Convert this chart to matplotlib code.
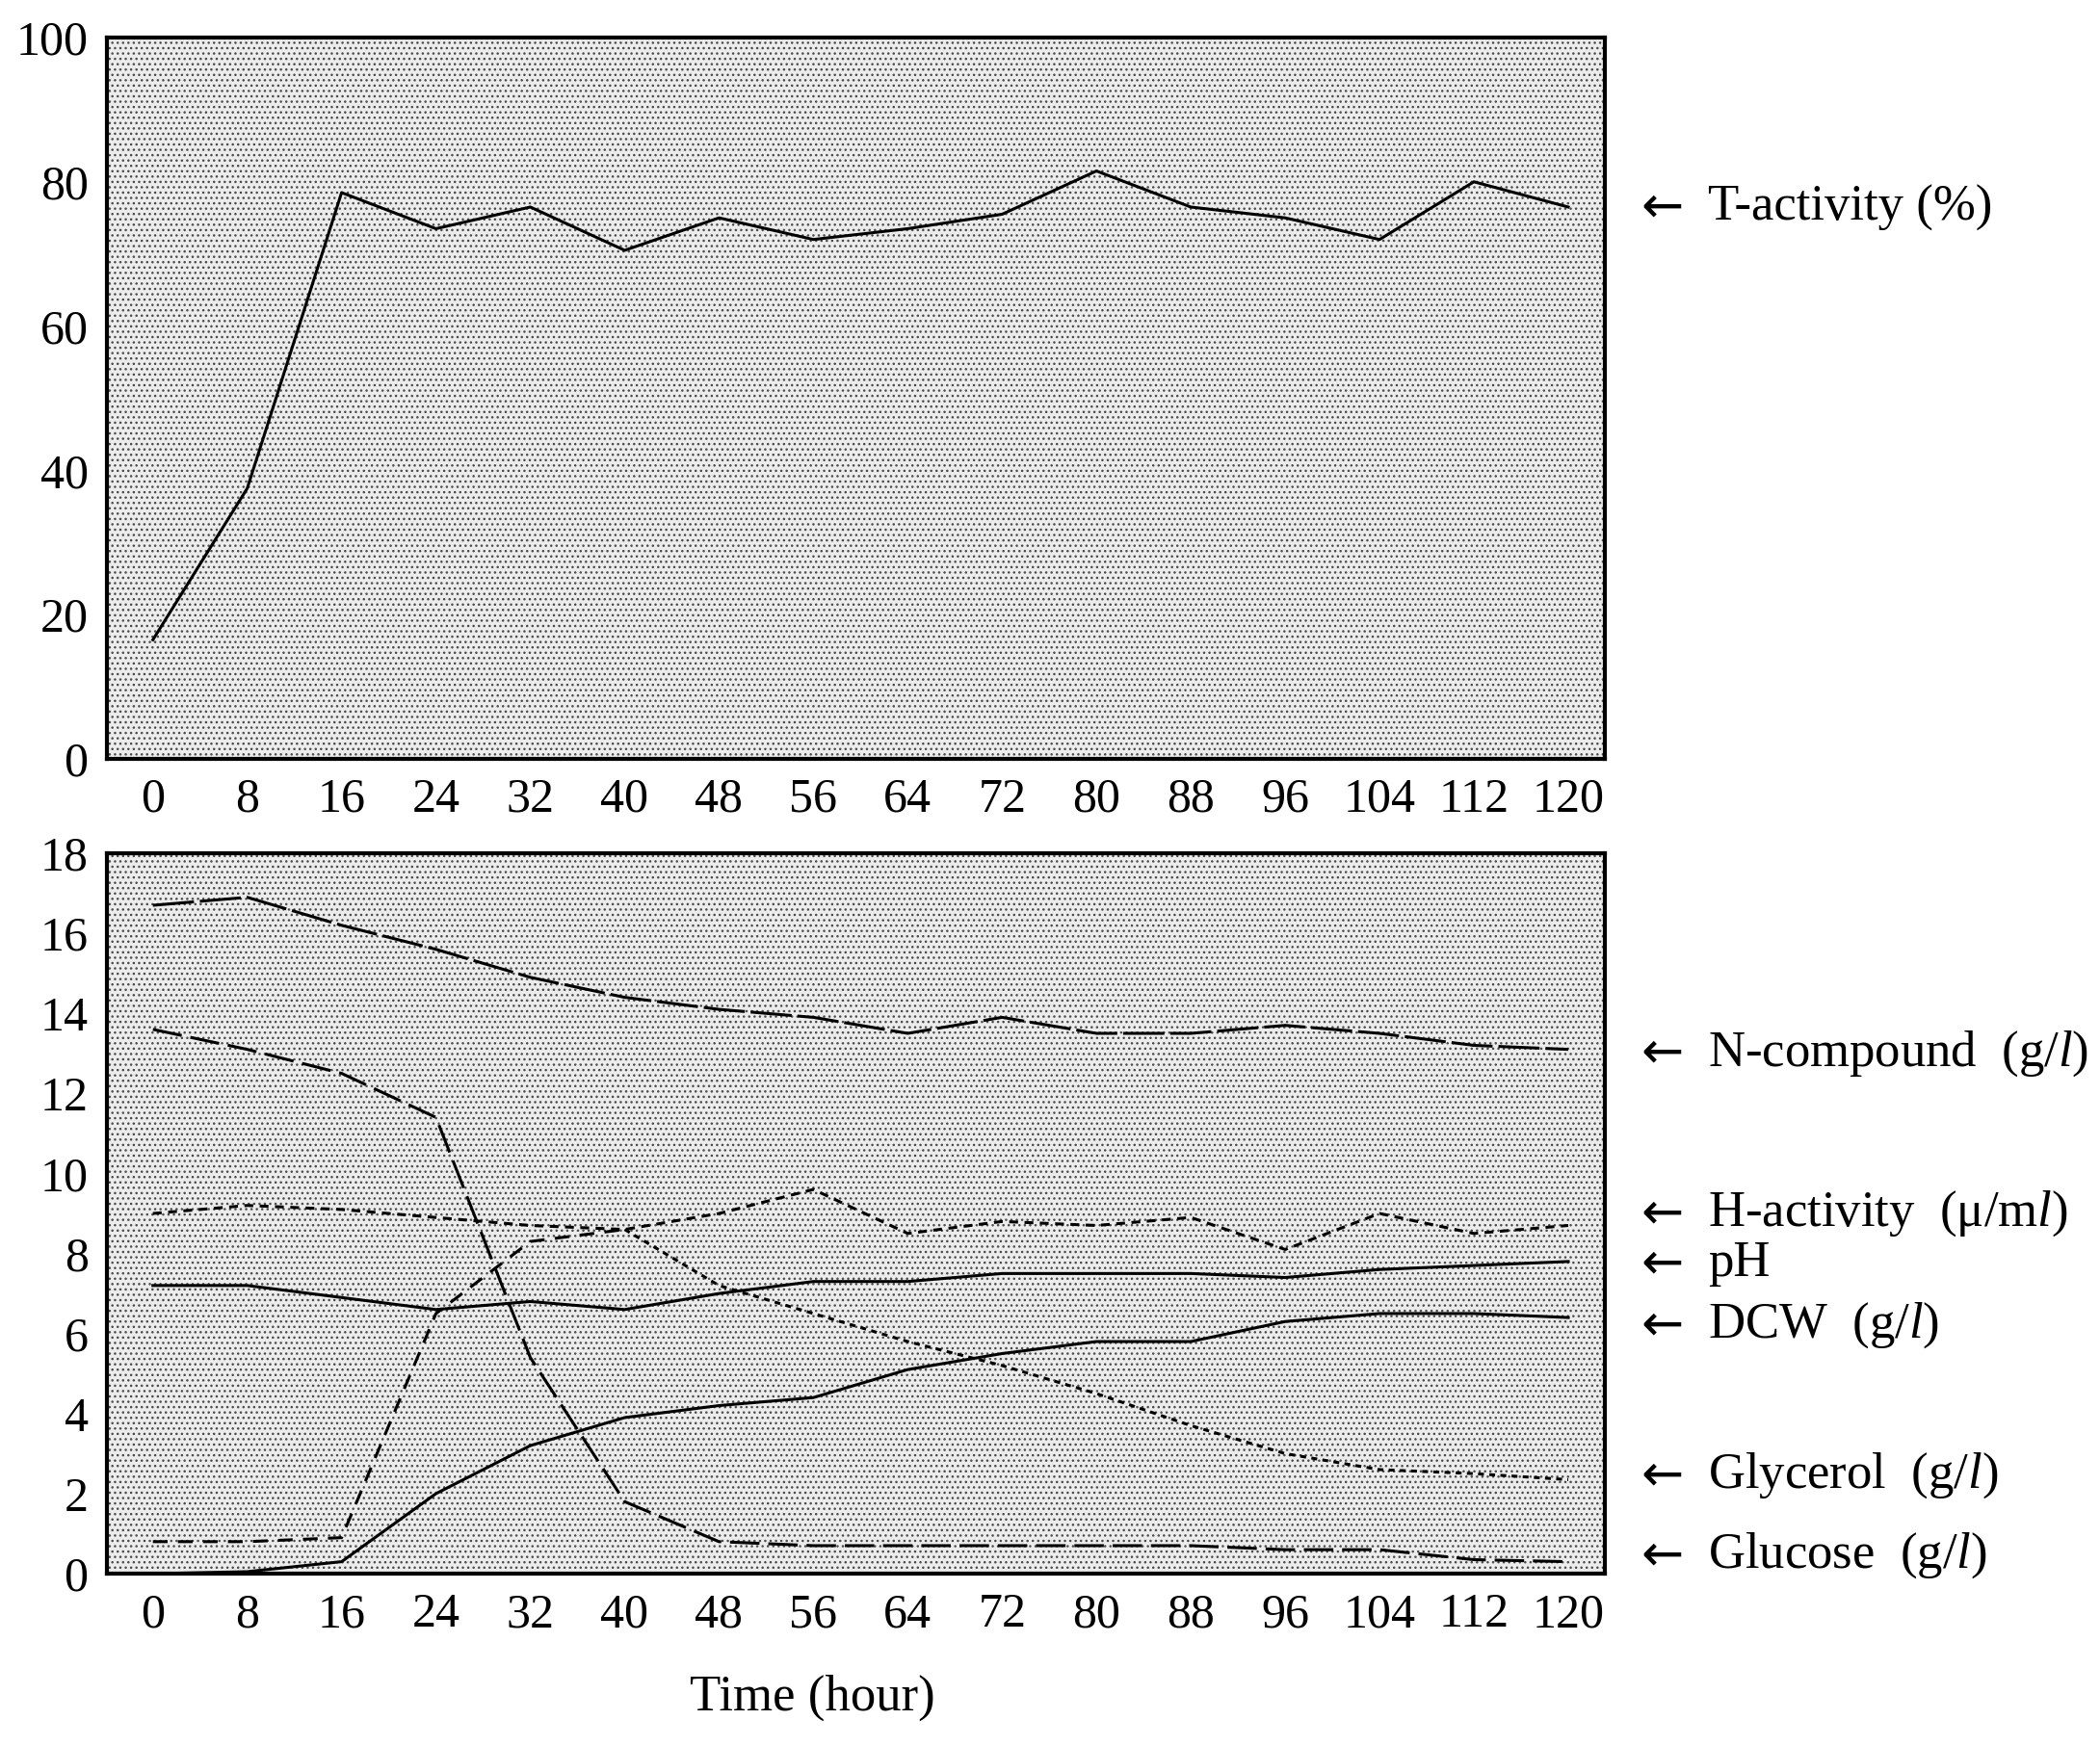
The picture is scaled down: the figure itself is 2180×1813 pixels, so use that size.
import numpy as np
import matplotlib
matplotlib.use("Agg")
import matplotlib.pyplot as plt
from matplotlib.patches import Rectangle

plt.rcParams['font.family'] = ['Liberation Serif', 'DejaVu Serif']
plt.rcParams['hatch.linewidth'] = 1.0
plt.rcParams['hatch.color'] = '#4a4a4a'
plt.rcParams['mathtext.fontset'] = 'custom'
plt.rcParams['mathtext.it'] = 'Liberation Serif:italic'
plt.rcParams['mathtext.rm'] = 'Liberation Serif'

## Data
hours = [0, 8, 16, 24, 32, 40, 48, 56, 64, 72, 80, 88, 96, 104, 112, 120]
x_ticks = hours

t_activity = [16.5, 37.5, 78.5, 73.5, 76.5, 70.5, 75.0, 72.0, 73.5, 75.5, 81.5, 76.5, 75.0, 72.0, 80.0, 76.5]

n_compound = [16.7, 16.9, 16.2, 15.6, 14.9, 14.4, 14.1, 13.9, 13.5, 13.9, 13.5, 13.5, 13.7, 13.5, 13.2, 13.1]
h_activity = [9.0, 9.2, 9.1, 8.9, 8.7, 8.6, 9.0, 9.6, 8.5, 8.8, 8.7, 8.9, 8.1, 9.0, 8.5, 8.7]
ph = [7.2, 7.2, 6.9, 6.6, 6.8, 6.6, 7.0, 7.3, 7.3, 7.5, 7.5, 7.5, 7.4, 7.6, 7.7, 7.8]
dcw = [0.0, 0.05, 0.3, 2.0, 3.2, 3.9, 4.2, 4.4, 5.1, 5.5, 5.8, 5.8, 6.3, 6.5, 6.5, 6.4]
glycerol = [0.8, 0.8, 0.9, 6.5, 8.3, 8.6, 7.2, 6.5, 5.8, 5.2, 4.5, 3.7, 3.0, 2.6, 2.5, 2.35]
glucose = [13.6, 13.1, 12.5, 11.4, 5.4, 1.8, 0.8, 0.7, 0.7, 0.7, 0.7, 0.7, 0.6, 0.6, 0.35, 0.3]

top_labels = [("T-activity (%)", 76.4)]
bottom_labels = [
    ("N-compound  (g/$\\mathit{l}$)", 13.0),
    ("H-activity  (\u03bc/m$\\mathit{l}$)", 9.0),
    ("pH", 7.75),
    ("DCW  (g/$\\mathit{l}$)", 6.2),
    ("Glycerol  (g/$\\mathit{l}$)", 2.45),
    ("Glucose  (g/$\\mathit{l}$)", 0.45),
]

TICK_FS = 36
LABEL_FS = 38
LW = 2.2

fig = plt.figure(figsize=(21.80, 18.13), dpi=100)
ax_top = fig.add_axes([0.0509, 0.5654, 0.7133, 0.4131])
ax_bot = fig.add_axes([0.0509, 0.0987, 0.7133, 0.4126])


def style_axes(ax, ylim, yticks):
    ax.set_xlim(-3.9, 123.1)
    ax.set_ylim(*ylim)
    ax.set_xticks(x_ticks)
    ax.set_yticks(yticks)
    ax.tick_params(length=0, labelsize=TICK_FS, pad=14)
    for s in ax.spines.values():
        s.set_linewidth(3.0)
    # stippled background like the printed figure
    ax.set_facecolor('#ececec')
    ax.add_patch(Rectangle((0, 0), 1, 1, transform=ax.transAxes, facecolor='none',
                           edgecolor='#4a4a4a', hatch='...', linewidth=0, zorder=0))


def right_labels(ax, labels):
    trans = ax.get_yaxis_transform()
    for text, yv in labels:
        ax.text(1.024, yv, "\u2190", transform=trans, fontsize=LABEL_FS,
                va='center', ha='left', clip_on=False, family='DejaVu Sans')
        ax.text(1.069, yv, text, transform=trans, fontsize=LABEL_FS,
                va='center', ha='left', clip_on=False)


# Top panel: T-activity
style_axes(ax_top, (0, 100), [0, 20, 40, 60, 80, 100])
ax_top.plot(hours, t_activity, color='black', lw=LW, zorder=3)
right_labels(ax_top, top_labels)

# Bottom panel
style_axes(ax_bot, (0, 18), [0, 2, 4, 6, 8, 10, 12, 14, 16, 18])
ax_bot.plot(hours, n_compound, color='black', lw=LW, dashes=(14, 2), zorder=3)
ax_bot.plot(hours, glucose, color='black', lw=LW, dashes=(10, 3), zorder=3)
ax_bot.plot(hours, h_activity, color='black', lw=LW, dashes=(3, 2.2), zorder=3)
ax_bot.plot(hours, ph, color='black', lw=LW, zorder=3)
ax_bot.plot(hours, dcw, color='black', lw=LW, zorder=3)
# glycerol: dashed while rising, finer dots once it falls
ax_bot.plot(hours[:6], glycerol[:6], color='black', lw=LW, dashes=(5, 3.5), zorder=3)
ax_bot.plot(hours[5:], glycerol[5:], color='black', lw=LW, dashes=(2, 1.8), zorder=3)
right_labels(ax_bot, bottom_labels)

fig.text(0.387, 0.0145, "Time (hour)", fontsize=LABEL_FS, ha='center', va='bottom')

fig.savefig("out.png", dpi=100)
